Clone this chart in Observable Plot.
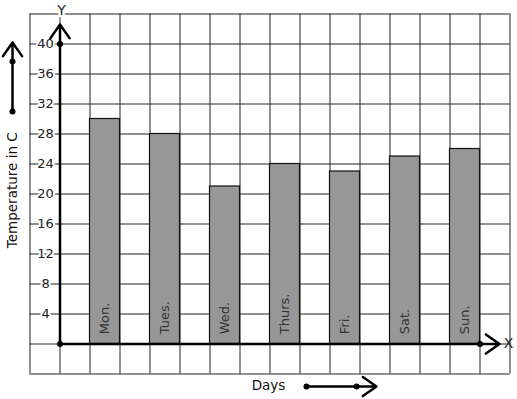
<!DOCTYPE html>
<html>
<head>
<meta charset="utf-8">
<script src="https://cdn.jsdelivr.net/npm/d3@7"></script>
<script src="https://cdn.jsdelivr.net/npm/@observablehq/plot@0.6"></script>
<style>
  html, body { margin: 0; padding: 0; background: #fff; }
  #chart svg { display: block; }
</style>
</head>
<body>
<div id="chart"></div>
<script>
// ---- data ----
const days = ["Mon.", "Tues.", "Wed.", "Thurs.", "Fri.", "Sat.", "Sun."];
const temperatures = [30, 28, 21, 24, 23, 25, 26];
const yTickLabels = [4, 8, 12, 16, 20, 24, 28, 32, 36, 40];
const yTitle = "Temperature in C";
const xTitle = "Days";

// grid in chart units (one column = 1 unit, one row = 4 °C)
const gridCols = d3.range(-1, 16, 1);
const gridRows = d3.range(-4, 45, 4);

const bars = days.map((d, i) => ({day: d, temp: temperatures[i], x1: 2 * i + 1, x2: 2 * i + 2}));

// decorative arrows (chart units)
const axisArrows = [
  {x1: 0, y1: 0, x2: 0, y2: 42.6},
  {x1: 0, y1: 0, x2: 14.65, y2: 0}
];
const sideArrows = [
  {x1: -1.583, y1: 31.0, x2: -1.583, y2: 40.2},
  {x1: 8.217, y1: -5.67, x2: 10.55, y2: -5.67}
];
const dots = [
  {x: 0, y: 0}, {x: 0, y: 40}, {x: 14, y: 0},
  {x: -1.583, y: 31.0}, {x: -1.583, y: 37.67},
  {x: 8.217, y: -5.67}, {x: 9.883, y: -5.67}
];

const chart = Plot.plot({
  width: 517,
  height: 399,
  margin: 0,
  style: {fontFamily: "DejaVu Sans, sans-serif", fontSize: "13px", background: "#fff"},
  x: {type: "linear", domain: [-1, 15], range: [29.5, 509.5], axis: null},
  y: {type: "linear", domain: [-4, 44], range: [373.5, 13.5], axis: null},
  marks: [
    Plot.ruleX(gridCols, {y1: -4, y2: 44, stroke: "#222", strokeWidth: 1}),
    Plot.ruleY(gridRows, {x1: -1, x2: 15, stroke: "#222", strokeWidth: 1}),
    Plot.rect(bars, {x1: "x1", x2: "x2", y1: 0, y2: "temp", fill: "#979797", stroke: "#111", strokeWidth: 1.2}),
    Plot.text(bars, {x: d => (d.x1 + d.x2) / 2, y: 1.3, text: "day", rotate: -90, textAnchor: "start", fill: "#333", fontSize: 13}),
    Plot.text(yTickLabels, {x: -0.48, y: d => d, text: d => String(d), fill: "#222", fontSize: 13, stroke: "#fff", strokeWidth: 4}),
    Plot.arrow(axisArrows, {x1: "x1", y1: "y1", x2: "x2", y2: "y2", stroke: "#000", strokeWidth: 2.5, headLength: 10, headAngle: 70}),
    Plot.arrow(sideArrows, {x1: "x1", y1: "y1", x2: "x2", y2: "y2", stroke: "#000", strokeWidth: 2.5, headLength: 10, headAngle: 70}),
    Plot.dot(dots, {x: "x", y: "y", r: 3, fill: "#000"}),
    Plot.text(["Y"], {x: 0.05, y: 44.4, text: d => d, fill: "#222", fontSize: 14, stroke: "#fff", strokeWidth: 5}),
    Plot.text(["X"], {x: 14.95, y: 0, text: d => d, fill: "#222", fontSize: 14}),
    Plot.text([yTitle], {x: -1.575, y: 20.5, text: d => d, rotate: -90, fill: "#111", fontSize: 13.5}),
    Plot.text([xTitle], {x: 6.95, y: -5.6, text: d => d, fill: "#111", fontSize: 13.5})
  ]
});
document.getElementById("chart").append(chart);
</script>
</body>
</html>
